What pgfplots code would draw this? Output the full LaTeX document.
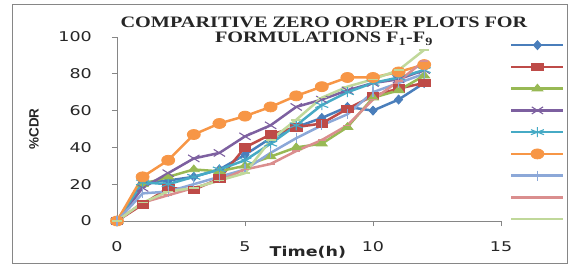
\documentclass[border=0pt]{standalone}
\usepackage{pgfplots}
\usepackage{pgfplotstable}
\pgfplotsset{compat=1.18}
\usepackage{fontspec}
\setmainfont{Liberation Serif}
\newfontfamily\titlefont[FakeStretch=1.27]{Liberation Serif}
\newfontfamily\tickfont[FakeStretch=1.3]{DejaVu Sans}
\newfontfamily\ylabfont{Liberation Sans}
\definecolor{axgray}{HTML}{868686}
\definecolor{cA}{HTML}{4A7EBB}
\definecolor{cB}{HTML}{BE4B48}
\definecolor{cC}{HTML}{98B954}
\definecolor{cD}{HTML}{7D60A0}
\definecolor{cE}{HTML}{46AAC5}
\definecolor{cF}{HTML}{F79646}
\definecolor{cG}{HTML}{8CA8D8}
\definecolor{cH}{HTML}{DA8E8E}
\definecolor{cI}{HTML}{C0D89A}
\pgfplotstableread{
t  F1 F2 F3 F4 F5 F6 F7 F8 F9
0  0  0  0  0  0  0  0  0  0
1  21 9  20 18 21 24 15 10 10
2  22 18 24 26 20 33 16 14 16
3  24 17 28 34 24 47 20 18 18
4  28 23 27 37 28 53 24 22 22
5  36 40 30 46 33 57 28 28 26
6  45 47 35 52 42 62 37 31 44
7  51 51 40 62 52 68 45 38 55
8  56 53 42 66 63 73 52 44 67
9  62 61 51 71 70 78 58 52 73
10 60 68 67 75 75 78 70 66 77
11 66 72 71 77 78 81 75 76 82
12 75 75 79 82 82 85 80 87 93
}\data
\begin{document}
\begin{tikzpicture}
\useasboundingbox (0,0) rectangle (572bp,267bp);
\draw[color=axgray, line width=0.9bp] (12.5bp,4bp) rectangle (567.5bp,263bp);
\begin{axis}[
  at={(117bp,46bp)}, anchor=south west,
  scale only axis, width=384bp, height=184bp,
  xmin=0, xmax=15, ymin=0, ymax=100,
  axis lines=left,
  axis line style={draw=axgray, line width=0.9bp, -},
  xtick={0,5,10,15}, ytick={0,20,40,60,80,100},
  tick align=outside, major tick length=5bp,
  tick style={draw=axgray, line width=0.9bp},
  /pgf/number format/assume math mode=true,
  tick label style={font=\tickfont\fontsize{13.5}{14}\selectfont, text=black!85},
  xticklabel style={anchor=north, inner sep=0pt, yshift=-15bp},
  yticklabel style={anchor=east, inner sep=0pt, xshift=-20bp},
  title={COMPARITIVE ZERO ORDER PLOTS FOR\\FORMULATIONS F\textsubscript{1}-F\textsubscript{9}},
  title style={at={(0.539,1.001)}, anchor=center, align=center,
    font=\titlefont\bfseries\fontsize{16}{15.5}\selectfont, text=black!85},
  xlabel={Time(h)},
  xlabel style={at={(axis description cs:0.497,-0.168)}, anchor=center,
    font=\tickfont\bfseries\fontsize{13.5}{14}\selectfont, text=black!85},
  ylabel={\%CDR},
  ylabel style={at={(axis description cs:-0.216,0.5)}, anchor=center, rotate=0,
    font=\ylabfont\bfseries\fontsize{13.5}{14}\selectfont, text=black!85},
  clip=false,
  every axis plot/.append style={line width=2.5bp},
  legend image code/.code={\path[draw=none,fill=none] (0bp,-10.875bp) rectangle (52bp,10.875bp);\draw[mark repeat=2,mark phase=2,#1] plot coordinates {(0bp,0bp) (26bp,0bp) (52bp,0bp)};},
  legend style={at={(1.0234,1.0158)}, anchor=north west, draw=none, fill=none,
    inner sep=0pt, row sep=0pt, nodes={inner sep=0pt}},
  legend entries={\mbox{},\mbox{},\mbox{},\mbox{},\mbox{},\mbox{},\mbox{},\mbox{},\mbox{}},
]
\addplot[color=cA, mark=diamond*, mark size=4.5bp, mark options={solid, fill=cA, line width=0.8bp, xscale=1.2}] table[x=t, y=F1] {\data};
\addplot[color=cB, mark=square*, mark size=3.8bp, mark options={solid, fill=cB, line width=0.8bp, xscale=1.5}] table[x=t, y=F2] {\data};
\addplot[color=cC, mark=triangle*, mark size=4.5bp, mark options={solid, fill=cC, line width=0.8bp, xscale=1.4}] table[x=t, y=F3] {\data};
\addplot[color=cD, mark=x, mark size=5bp, mark options={solid, line width=1.1bp, xscale=1.6}] table[x=t, y=F4] {\data};
\addplot[color=cE, mark=asterisk, mark size=5bp, mark options={solid, line width=1.1bp, xscale=1.5}] table[x=t, y=F5] {\data};
\addplot[color=cF, mark=*, mark size=5bp, mark options={solid, fill=cF, line width=0.8bp, xscale=1.3}] table[x=t, y=F6] {\data};
\addplot[color=cG, mark=|, mark size=5bp, mark options={solid, line width=1.1bp}] table[x=t, y=F7] {\data};
\addplot[color=cH, mark=-, mark size=4bp, mark options={solid, line width=1.5bp}] table[x=t, y=F8] {\data};
\addplot[color=cI, mark=-, mark size=5bp, mark options={solid, line width=1.5bp}] table[x=t, y=F9] {\data};
\end{axis}
\end{tikzpicture}
\end{document}
